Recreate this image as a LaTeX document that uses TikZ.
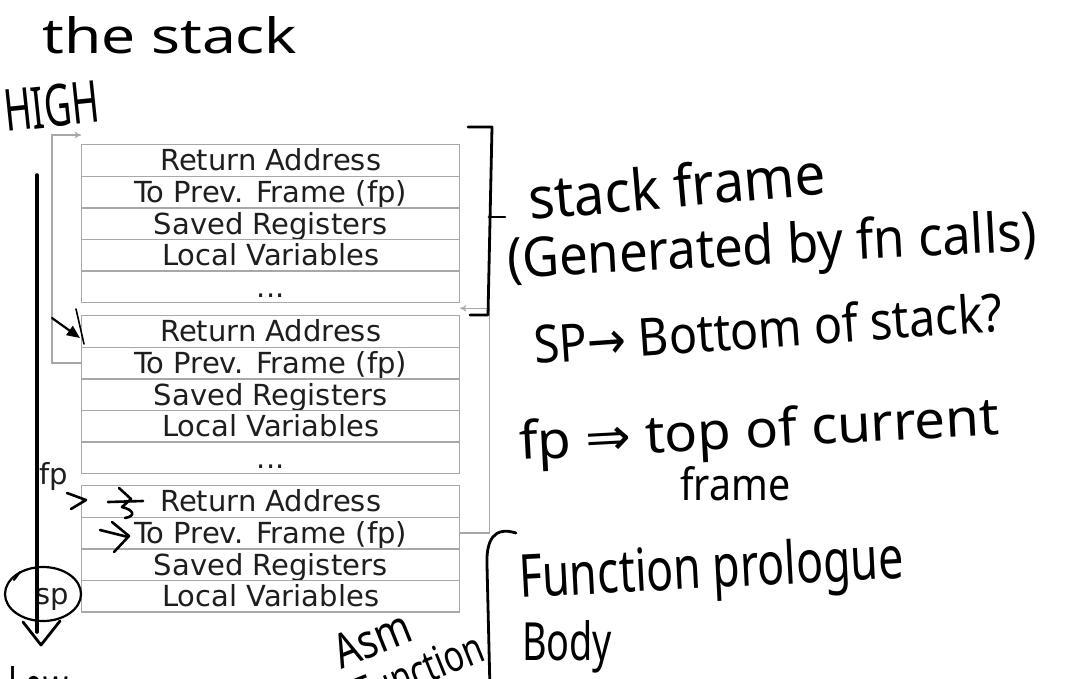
\documentclass[tikz,border=0pt]{standalone}
\usepackage{fontspec}
\usepackage{graphicx}
\setmainfont{DejaVu Sans}
\newfontfamily\hand{Noto Sans}
\newfontfamily\dv{DejaVu Sans}
\usetikzlibrary{arrows.meta}
\definecolor{boxgray}{HTML}{A8A8A8}
\definecolor{txt}{HTML}{1E1E1E}
\newcommand\hw[3]{\resizebox{#1pt}{#2pt}{\hand #3}}
\tikzset{
  row/.style={draw=boxgray, line width=1.3pt, minimum width=378pt, minimum height=31.6pt,
    inner sep=0pt, text height=21pt, text depth=0pt, font=\fontsize{29}{31}\selectfont,
    text=txt, anchor=north west},
  conn/.style={draw=boxgray, line width=1.3pt},
  pen/.style={line width=2.8pt, line cap=round, line join=round},
  hnd/.style={inner sep=0pt, anchor=base west},
  lbl/.style={inner sep=0pt, anchor=base west, font=\fontsize{29}{31}\selectfont, text=txt},
}
\begin{document}
\begin{tikzpicture}[x=1pt, y=-1pt]
\useasboundingbox[fill=white] (0,0) rectangle (1090,678);

% frame 1
\node[row] (f1a) at (81,144)   {Return Address};
\node[row] (f1b) at (81,175.6) {To Prev. Frame (fp)};
\node[row] (f1c) at (81,207.2) {Saved Registers};
\node[row] (f1d) at (81,238.8) {Local Variables};
\node[row] (f1e) at (81,270.4) {...};
% frame 2
\node[row] (f2a) at (81,315)   {Return Address};
\node[row] (f2b) at (81,346.6) {To Prev. Frame (fp)};
\node[row] (f2c) at (81,378.2) {Saved Registers};
\node[row] (f2d) at (81,409.8) {Local Variables};
\node[row] (f2e) at (81,441.4) {...};
% frame 3
\node[row] (f3a) at (81,485)   {Return Address};
\node[row] (f3b) at (81,516.6) {To Prev. Frame (fp)};
\node[row] (f3c) at (81,548.2) {Saved Registers};
\node[row] (f3d) at (81,579.8) {Local Variables};

% gray frame-pointer links
\draw[conn, -{To[length=6pt,width=6pt]}] (f2b.west) -- ++(-29,0) |- ([yshift=9pt]f1a.north west);
\draw[conn, -{To[length=6pt,width=6pt]}] (f3b.east) -- ++(29,0) |- ([yshift=-5pt]f1e.south east);

% typed labels
\node[lbl] (fp) at (39,484) {fp};
\node[lbl] (sp) at (35,604) {sp};

% handwriting: strokes
\draw[pen, line width=3.6pt] (37,175) -- (37,632);
\draw[pen] (23,622) -- (41,645) -- (60,621);
\draw[pen, line width=2.2pt] (43,594) ellipse [x radius=38, y radius=27];
\draw[pen, line width=2pt] (20,572) -- (14,580);
\draw[pen] (468,127) -- (492,127) -- (488,315) -- (470,315);
\draw[pen] (489,217) -- (505,217);
\draw[pen] (516,533) .. controls (494,526) and (486,540) .. (487,565) -- (490,690);
% arrow to frame 2
\draw[pen, line width=2.2pt, -{Triangle[length=13pt,width=11pt]}] (52,318) -- (80,338);
\draw[pen, line width=1.6pt] (76,309) -- (84,344);
% arrows at frame 3
\draw[pen, line width=2.6pt] (67,493) -- (86,500) -- (71,509);
\draw[pen, line width=2.6pt] (108,502) -- (143,501);
\draw[pen, line width=2.6pt] (119,488) -- (131,499) -- (122,507) .. controls (134,510) and (136,516) .. (125,518);
\draw[pen, line width=2.6pt] (100,530) -- (128,537);
\draw[pen, line width=2.6pt] (112,522) -- (129,536) -- (114,552);

% handwriting: text
\node[hnd] (title) at (42,53) {\hw{255}{37}{the stack}};
\node[hnd, rotate=6] (high) at (6,132) {\hw{96}{42}{HIGH}};
\node[hnd, rotate=5] (sf) at (530,220) {\hw{298}{44}{stack frame}};
\node[hnd, rotate=3] (gen) at (508,278) {\hw{530}{42}{(Generated by fn calls)}};
\node[hnd, rotate=4] (spdef) at (535,364) {\hw{470}{40}{SP{\dv→} Bottom of stack?}};
\node[hnd, rotate=3] (fpdef) at (520,460) {\hw{480}{40}{fp {\dv⇒} top of current}};
\node[hnd] (fpdef2) at (680,500) {\hw{110}{34}{frame}};
\node[hnd, rotate=3] (prol) at (520,598) {\hw{385}{45}{Function prologue}};
\node[hnd] (body) at (522,660) {\hw{90}{40}{Body}};
\node[hnd, rotate=22] (asm) at (341,670) {\hw{80}{34}{Asm}};
\node[hnd, rotate=22] (asmf) at (362,710) {\hw{135}{32}{Function}};
\node[hnd] (low) at (8,708) {\hw{60}{42}{Low}};
\end{tikzpicture}
\end{document}
